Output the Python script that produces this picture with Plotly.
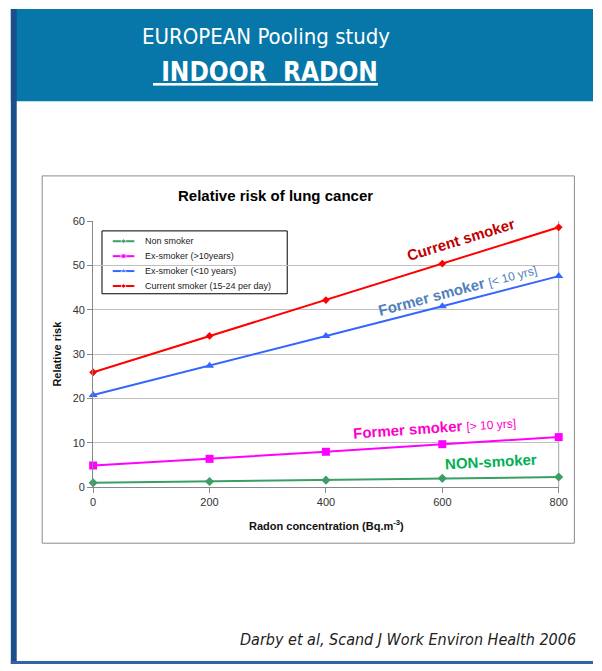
import plotly.graph_objects as go

W, H = 602, 671

radon = [0, 200, 400, 600, 800]
non_smoker = [1.0, 1.3, 1.6, 2.0, 2.3]
ex_smoker_gt10 = [4.9, 6.4, 8.0, 9.7, 11.3]
ex_smoker_lt10 = [20.8, 27.4, 34.1, 40.8, 47.6]
current_smoker = [25.9, 34.1, 42.2, 50.4, 58.6]

series_names = ["Non smoker", "Ex-smoker (>10years)", "Ex-smoker (<10 years)", "Current smoker (15-24 per day)"]
x_ticks = [0, 200, 400, 600, 800]
y_ticks = [0, 10, 20, 30, 40, 50, 60]

def px(x):
    return x / W

def py(y):
    return 1 - y / H

fig = go.Figure()
styles = [
    (non_smoker, "#3A9F63", "diamond", 7),
    (ex_smoker_gt10, "#FF00FF", "square", 8),
    (ex_smoker_lt10, "#3366FF", "triangle-up", 8),
    (current_smoker, "#FF0000", "diamond", 6),
]
for name, (vals, col, sym, sz) in zip(series_names, styles):
    fig.add_trace(go.Scatter(
        x=radon, y=vals, name=name, mode="lines+markers",
        line=dict(color=col, width=2), marker=dict(color=col, symbol=sym, size=sz),
        cliponaxis=False, showlegend=False,
    ))

# compact legend like the original, drawn on a full-page pixel axis
LEG_X0, LEG_Y0, LEG_STEP = 112, 239.5, 15.2
for i, (name, (vals, col, sym, sz)) in enumerate(zip(series_names, styles)):
    yy = LEG_Y0 + i * LEG_STEP
    fig.add_trace(go.Scatter(
        x=[LEG_X0, LEG_X0 + 11, LEG_X0 + 22], y=[yy, yy, yy], mode="lines+markers",
        line=dict(color=col, width=2), marker=dict(color=col, symbol=sym, size=[0, max(sz - 3, 4), 0]),
        xaxis="x2", yaxis="y2", showlegend=False, hoverinfo="skip", cliponaxis=False,
    ))

FONT = "Liberation Sans, Arial, sans-serif"
NARROW = "Liberation Sans Narrow, Arial Narrow, DejaVu Sans Condensed, Liberation Sans, sans-serif"

fig.update_layout(
    width=W, height=H,
    margin=dict(l=0, r=0, t=0, b=0),
    paper_bgcolor="white", plot_bgcolor="rgba(0,0,0,0)",
    font=dict(family=FONT, color="#333333", size=11),
    showlegend=False,
    hovermode=False,
    xaxis=dict(
        domain=[px(92), px(567)], range=[0, 800],
        tickvals=x_ticks, ticks="outside", ticklen=5, tickcolor="#888888",
        showgrid=False, showline=True, linecolor="#888888", zeroline=False,
        tickfont=dict(size=11, color="#333333"),
        anchor="y",
    ),
    yaxis=dict(
        domain=[py(490), py(219)], range=[0, 60],
        tickvals=y_ticks, ticks="outside", ticklen=5, tickcolor="#888888",
        showgrid=True, gridcolor="#BFBFBF", gridwidth=1,
        showline=True, linecolor="#888888", zeroline=False,
        tickfont=dict(size=11, color="#333333"),
        anchor="x",
    ),
    xaxis2=dict(domain=[0, 1], range=[0, W], visible=False, anchor="y2", fixedrange=True),
    yaxis2=dict(domain=[0, 1], range=[H, 0], visible=False, anchor="x2", fixedrange=True),
)

shapes = [
    # header band
    dict(type="rect", xref="paper", yref="paper", x0=px(8), x1=1, y0=py(97), y1=py(3),
         fillcolor="#0677A8", line=dict(width=0), layer="below"),
    # left dark strip
    dict(type="rect", xref="paper", yref="paper", x0=px(8), x1=px(14), y0=py(670), y1=py(3),
         fillcolor="#1B4F8C", line=dict(width=0), layer="above"),
    # bottom line
    dict(type="rect", xref="paper", yref="paper", x0=px(8), x1=1, y0=py(670), y1=py(667),
         fillcolor="#2F64A8", line=dict(width=0), layer="above"),
    # chart frame
    dict(type="rect", xref="paper", yref="paper", x0=px(40), x1=px(583), y0=py(547), y1=py(173),
         fillcolor="rgba(0,0,0,0)", line=dict(color="#8C8C8C", width=1), layer="below"),
    # plot area right border
    dict(type="line", xref="paper", yref="paper", x0=px(567), x1=px(567), y0=py(490), y1=py(219),
         line=dict(color="#A6A6A6", width=1), layer="below"),
    # legend box
    dict(type="rect", xref="paper", yref="paper", x0=px(101), x1=px(290), y0=py(293), y1=py(229),
         fillcolor="white", line=dict(color="#000000", width=1), layer="below"),
]
fig.update_layout(shapes=shapes)

ann = [
    dict(text="EUROPEAN Pooling study", x=px(268), y=py(31), font=dict(family=NARROW, size=22, color="white")),
    dict(text="<b><u>\u00a0INDOOR\u00a0 RADON</u></b>", x=px(268), y=py(67), font=dict(family=NARROW, size=26, color="white")),
    dict(text="<b>Relative risk of lung cancer</b>", x=px(278), y=py(193), font=dict(family=FONT, size=15, color="#000000")),
    dict(text="<b>Radon concentration (Bq.m<sup>-3</sup>)</b>", x=px(330), y=py(528), font=dict(family=FONT, size=11, color="#111111")),
    dict(text="<b>Relative risk</b>", x=px(55), y=py(354), textangle=-90, font=dict(family=FONT, size=11, color="#111111")),
    dict(text="<b>Current smoker</b>", x=px(467), y=py(238), textangle=-17, font=dict(family=FONT, size=15, color="#C00000")),
    dict(text="<b>Former smoker</b> <span style='font-size:12px'>[&lt; 10 yrs]</span>", x=px(464), y=py(289), textangle=-15,
         font=dict(family=FONT, size=15, color="#4F81BD")),
    dict(text="<b>Former smoker</b> <span style='font-size:12px'>[&gt; 10 yrs]</span>", x=px(440), y=py(429), textangle=-4,
         font=dict(family=FONT, size=15, color="#FF00CC")),
    dict(text="<b>NON-smoker</b>", x=px(498), y=py(464), textangle=-3, font=dict(family=FONT, size=15, color="#00B050")),
    dict(text="<i>Darby et al, Scand J Work Environ Health 2006</i>", x=px(587), y=py(645), xanchor="right",
         font=dict(family=NARROW, size=16, color="#222222")),
]
for i, name in enumerate(series_names):
    ann.append(dict(text=name, x=px(LEG_X0 + 31), y=py(LEG_Y0 + i * LEG_STEP), xanchor="left",
                    font=dict(family=FONT, size=9, color="#222222")))
for a in ann:
    a.setdefault("xanchor", "center")
    a.update(xref="paper", yref="paper", showarrow=False, yanchor="middle")
    fig.add_annotation(**a)

fig.write_html(
    "out.html",
    config={"displayModeBar": False, "staticPlot": True},
    post_script="document.body.style.margin='0';document.body.style.overflow='hidden';",
)
